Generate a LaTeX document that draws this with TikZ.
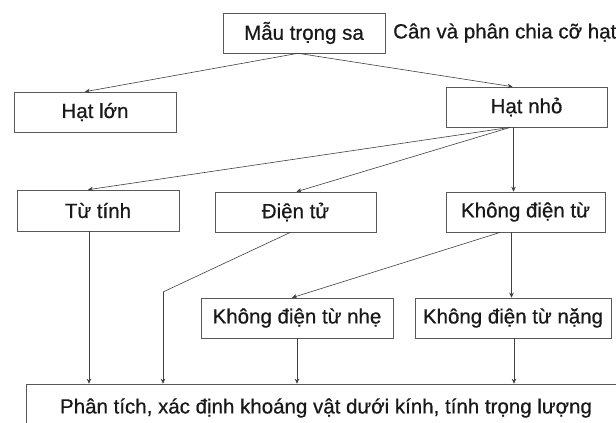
\documentclass[tikz,border=0pt]{standalone}
\usepackage{fontspec}
\setmainfont[FakeBold=0.6]{Liberation Sans}
\usetikzlibrary{arrows.meta,calc}
\begin{document}
\begin{tikzpicture}[x=1pt,y=-1pt,
  box/.style={draw=black!65,line width=0.6pt,minimum height=40pt,inner sep=0pt,
    font=\fontsize{20.5}{23}\selectfont,text=black!90},
  conn/.style={draw=black!75,line width=0.6pt,-{Stealth[length=5pt,width=4.5pt]}},
  plain/.style={draw=black!75,line width=0.6pt}]
\useasboundingbox (0,0) rectangle (616,423);
\clip (0,0) rectangle (616,423);
\fill[white] (0,0) rectangle (616,423);
\node[box,minimum width=162pt] (m) at (304,33) {Mẫu trọng sa};
\node[anchor=west,font=\fontsize{20.5}{23}\selectfont,text=black!90,inner sep=0pt] (lbl) at (393,33) {Cân và phân chia cỡ hạt};
\node[box,minimum width=162pt] (hl) at (95,112) {Hạt lớn};
\node[box,minimum width=161pt] (hn) at (526.5,107) {Hạt nhỏ};
\node[box,minimum width=162pt,minimum height=41pt] (tt) at (98,210.5) {Từ tính};
\node[box,minimum width=161pt] (dt) at (295.5,212) {Điện tử};
\node[box,minimum width=159pt] (kdt) at (525.5,212) {Không điện từ};
\node[box,minimum width=192pt] (nhe) at (297,318) {Không điện từ nhẹ};
\node[box,minimum width=196pt] (nang) at (513,318) {Không điện từ nặng};
\node[box,minimum width=600pt,minimum height=48pt] (pt) at (326,408) {Phân tích, xác định khoáng vật dưới kính, tính trọng lượng};
% top level
\draw[conn] ([xshift=-6pt]m.south) -- ([xshift=-10pt]hl.north);
\draw[conn] ([xshift=-6pt]m.south) -- ([xshift=-14pt]hn.north);
% from Hat nho
\draw[conn] ([xshift=-16pt]hn.south) -- ([xshift=-10pt]tt.north);
\draw[conn] ([xshift=-16pt]hn.south) -- ([xshift=1pt]dt.north);
\draw[conn] ([xshift=-13pt]hn.south) -- ([xshift=-12pt]kdt.north);
% from Khong dien tu
\draw[conn] ([xshift=-25pt]kdt.south) -- ([xshift=-5pt]nhe.north);
\draw[conn] ([xshift=-14pt]kdt.south) -- ([xshift=-14pt]kdt.south |- nang.north);
% to bottom box
\draw[conn] ([xshift=-9pt]tt.south) -- ([xshift=-9pt]tt.south |- pt.north);
\coordinate (bend) at (163,292);
\draw[plain] ([xshift=-5pt]dt.south) -- (bend);
\draw[conn] (bend) -- (bend |- pt.north);
\draw[conn] (nhe.south) -- (nhe.south |- pt.north);
\draw[conn] ([xshift=1pt]nang.south) -- ([xshift=1pt]nang.south |- pt.north);
\end{tikzpicture}
\end{document}
